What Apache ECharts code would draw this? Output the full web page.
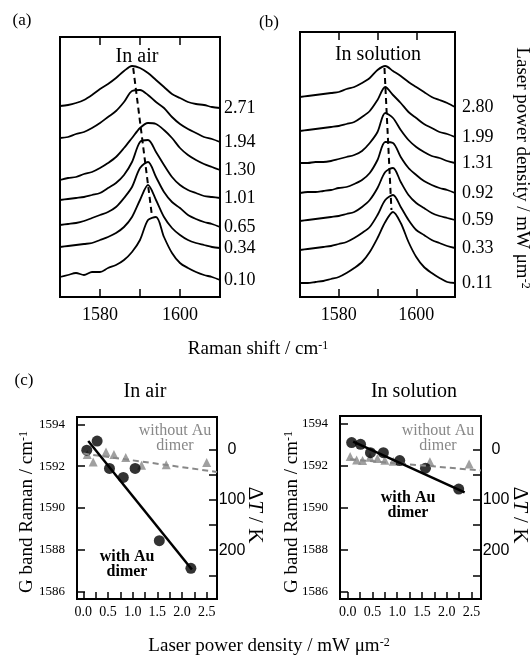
<!DOCTYPE html>
<html>
<head>
<meta charset="utf-8">
<script src="https://cdn.jsdelivr.net/npm/echarts@6/dist/echarts.min.js"></script>
<style>
html, body { margin: 0; background: #fff; }
#main { width: 531px; height: 660px; }
</style>
</head>
<body>
<div id="main"></div>
<script>
// Raman shift grid of the spectra (cm-1)
var shiftX = [1570,1572,1574,1576,1578,1580,1582,1584,1586,1588,1590,1592,1594,1596,1598,1600,1602,1604,1606,1608,1610];
var shiftTicks = [1570,1580,1590,1600,1610];
var shiftLabels = [1580,1600];

// (a) in air, stacked spectra, bottom to top (arb. units)
var airPower = ['0.10','0.34','0.65','1.01','1.30','1.94','2.71'];
var airSpectra = [
  [20,22,24,22,25,25,29,32,37,45,57,77,80,60,44,34,29,25,22,20,17],
  [50,51,52,53,54,57,60,64,70,80,97,112,97,80,69,62,57,54,52,50,49],
  [72,73,74,76,79,82,85,90,99,110,129,135,120,105,95,89,82,78,75,73,70],
  [97,98,99,100,102,104,109,114,122,135,155,157,145,132,120,112,107,104,101,100,99],
  [117,119,120,123,125,129,134,140,149,159,169,174,173,167,159,149,142,137,133,130,127],
  [159,160,163,165,169,174,180,186,195,206,207,202,195,189,180,173,168,164,160,158,155],
  [191,192,194,197,202,208,213,219,226,231,229,224,217,210,203,199,195,193,192,190,189]
];
var airPeakLine = [[1588.3,229],[1592.9,84]];

// (b) in solution
var solPower = ['0.11','0.33','0.59','0.92','1.31','1.99','2.80'];
var solSpectra = [
  [14,14,15,16,18,20,24,29,35,45,59,75,85,74,55,40,30,24,19,15,14],
  [47,48,49,50,51,53,55,59,64,70,82,97,102,90,77,67,62,57,54,51,49],
  [76,77,78,79,80,81,83,85,90,97,109,125,129,115,102,94,89,84,81,79,77],
  [104,105,105,106,107,109,110,113,117,124,137,155,154,140,129,122,116,112,109,107,104],
  [134,134,135,135,136,138,140,142,146,154,165,184,179,167,157,150,145,141,139,136,134],
  [166,167,168,169,170,171,173,175,180,186,197,210,202,194,185,179,173,169,165,163,160],
  [200,201,202,203,204,205,208,210,214,219,227,231,226,221,215,210,205,200,197,194,190]
];
var solPeakLine = [[1591.8,229],[1593.6,87]];

// (c) G band position vs laser power density
var airWithX = [0.07,0.28,0.53,0.81,1.05,1.54,2.18];
var airWithY = [1592.76,1593.2,1591.89,1591.46,1591.89,1588.43,1587.11];
var airWithoutX = [0.08,0.20,0.46,0.62,0.86,1.18,1.68,2.50];
var airWithoutY = [1592.55,1592.2,1592.68,1592.55,1592.41,1592.04,1592.07,1592.17];
var airWithFit = [[0.1,1593.2],[2.2,1587.05]];
var airWithoutFit = [[0.0,1592.6],[2.71,1591.72]];

var solWithX = [0.08,0.26,0.46,0.72,1.05,1.57,2.24];
var solWithY = [1593.11,1593.03,1592.63,1592.63,1592.25,1591.89,1590.89];
var solWithoutX = [0.05,0.18,0.30,0.45,0.60,0.75,0.92,1.66,2.45];
var solWithoutY = [1592.44,1592.28,1592.25,1592.41,1592.35,1592.27,1592.22,1592.2,1592.09];
var solWithFit = [[0.11,1593.16],[2.36,1590.73]];
var solWithoutFit = [[0.05,1592.31],[2.69,1591.78]];

var powerTicks = [0,0.25,0.5,0.75,1,1.25,1.5,1.75,2,2.25,2.5];
var powerLabels = [0,0.5,1,1.5,2,2.5];
var gbandTicks = [1586,1588,1590,1592,1594];
var dTTicks = [0,50,100,150,200,250];
var dTLabels = [0,100,200];

var serif = 'Liberation Serif';
var chart = echarts.init(document.getElementById('main'));

function pairs(xs, ys) {
    return xs.map(function (x, i) { return [x, ys[i]]; });
}
function plain(v) { return String(v); }

var frame = {show: true, borderColor: '#000', borderWidth: 2, backgroundColor: 'transparent'};
var blackLine = {onZero: false, lineStyle: {color: '#000', width: 2}};

function shiftAxis(grid, pos) {
    return {
        type: 'value', gridIndex: grid, position: pos, min: 1570, max: 1610, interval: 10,
        axisLine: blackLine,
        axisTick: {inside: true, length: 8, lineStyle: {color: '#000', width: 1.5}, customValues: shiftTicks},
        axisLabel: {show: pos === 'bottom', customValues: shiftLabels, margin: 9, formatter: plain,
            color: '#000', fontFamily: serif, fontSize: 18},
        splitLine: {show: false}
    };
}
function powerAxis(grid, mn, mx) {
    return {
        type: 'value', gridIndex: grid, min: mn, max: mx,
        axisLine: blackLine,
        axisTick: {inside: true, length: 7, lineStyle: {color: '#000', width: 1.5}, customValues: powerTicks},
        axisLabel: {customValues: powerLabels, margin: 6, color: '#000', fontFamily: serif, fontSize: 14,
            formatter: function (v) { return v.toFixed(1); }},
        splitLine: {show: false}
    };
}
function gbandAxis(grid, mn, mx) {
    return {
        type: 'value', gridIndex: grid, position: 'left', min: mn, max: mx,
        axisLine: blackLine,
        axisTick: {inside: true, length: 8, lineStyle: {color: '#000', width: 1.5}, customValues: gbandTicks},
        axisLabel: {customValues: gbandTicks, margin: 12, formatter: plain,
            color: '#000', fontFamily: serif, fontSize: 13},
        splitLine: {show: false}
    };
}
function dTAxis(grid, mn, mx) {
    return {
        type: 'value', gridIndex: grid, position: 'right', inverse: true, min: mn, max: mx,
        axisLine: blackLine,
        axisTick: {inside: true, length: 8, lineStyle: {color: '#000', width: 1.5}, customValues: dTTicks},
        axisLabel: {customValues: dTLabels, margin: 15, align: 'center', formatter: plain,
            color: '#000', fontFamily: 'Liberation Sans', fontSize: 16},
        splitLine: {show: false}
    };
}

var series = [];
function addSpectra(spectra, labels, axis, dist) {
    spectra.forEach(function (row, i) {
        series.push({
            type: 'line', xAxisIndex: axis, yAxisIndex: axis / 2, data: pairs(shiftX, row),
            symbol: 'none', smooth: 0.3, silent: true,
            lineStyle: {color: '#000', width: 1.8},
            endLabel: {show: true, formatter: labels[i], distance: dist, color: '#000', fontFamily: serif, fontSize: 18}
        });
    });
}
addSpectra(airSpectra, airPower, 0, 4);
addSpectra(solSpectra, solPower, 2, 7);
series.push({type: 'line', xAxisIndex: 0, yAxisIndex: 0, data: airPeakLine, symbol: 'none',
    lineStyle: {color: '#000', width: 2, type: [6, 4]}});
series.push({type: 'line', xAxisIndex: 2, yAxisIndex: 1, data: solPeakLine, symbol: 'none',
    lineStyle: {color: '#000', width: 2, type: [6, 4]}});

function addPanel(xi, yi, withX, withY, withoutX, withoutY, withFit, withoutFit) {
    series.push({type: 'line', xAxisIndex: xi, yAxisIndex: yi, data: withoutFit, symbol: 'none',
        lineStyle: {color: '#888', width: 2, type: [6, 4]}});
    series.push({type: 'scatter', xAxisIndex: xi, yAxisIndex: yi, data: pairs(withoutX, withoutY),
        symbol: 'triangle', symbolSize: 9, itemStyle: {color: '#888'}});
    series.push({type: 'line', xAxisIndex: xi, yAxisIndex: yi, data: withFit, symbol: 'none',
        lineStyle: {color: '#000', width: 2.5}});
    series.push({type: 'scatter', xAxisIndex: xi, yAxisIndex: yi, data: pairs(withX, withY),
        symbol: 'circle', symbolSize: 11, itemStyle: {color: '#000'}});
}
addPanel(4, 2, airWithX, airWithY, airWithoutX, airWithoutY, airWithFit, airWithoutFit);
addPanel(5, 4, solWithX, solWithY, solWithoutX, solWithoutY, solWithFit, solWithoutFit);

function txt(x, y, text, size, extra) {
    var st = {text: text, x: 0, y: 0, align: 'center', verticalAlign: 'middle',
        fontFamily: serif, fontSize: size, fill: '#000'};
    var el = {type: 'text', x: x, y: y, style: st, silent: true};
    if (extra) {
        for (var k in extra.style || {}) st[k] = extra.style[k];
        if (extra.rotation) el.rotation = extra.rotation;
    }
    return el;
}
function sup(size, supSize) {
    return {n: {fontFamily: serif, fontSize: size}, s: {fontFamily: serif, fontSize: supSize, verticalAlign: 'top'}};
}
var dTrich = {n: {fontFamily: serif, fontSize: 21}, i: {fontFamily: serif, fontSize: 21, fontStyle: 'italic'}};

var graphics = [
    txt(22, 21, '(a)', 17),
    txt(269, 23, '(b)', 17),
    txt(137, 57, 'In air', 20),
    txt(378, 55, 'In solution', 20),
    txt(258, 349, '{n|Raman shift / cm}{s|-1}', 19, {style: {rich: sup(19, 12)}}),
    txt(522, 168, '{n|Laser power density / mW μm}{s|-2}', 19, {style: {rich: sup(19, 12)}, rotation: -Math.PI / 2}),
    txt(24, 381, '(c)', 17),
    txt(145, 392, 'In air', 20),
    txt(414, 392, 'In solution', 20),
    txt(27, 512, '{n|G band Raman / cm}{s|-1}', 19, {style: {rich: sup(19, 12)}, rotation: Math.PI / 2}),
    txt(292, 512, '{n|G band Raman / cm}{s|-1}', 19, {style: {rich: sup(19, 12)}, rotation: Math.PI / 2}),
    txt(255, 515, '{n|Δ}{i|T}{n| / K}', 21, {style: {rich: dTrich}, rotation: -Math.PI / 2}),
    txt(520, 515, '{n|Δ}{i|T}{n| / K}', 21, {style: {rich: dTrich}, rotation: -Math.PI / 2}),
    txt(175, 431, 'without Au', 16, {style: {fill: '#888'}}),
    txt(175, 446, 'dimer', 16, {style: {fill: '#888'}}),
    txt(438, 431, 'without Au', 16, {style: {fill: '#888'}}),
    txt(438, 446, 'dimer', 16, {style: {fill: '#888'}}),
    txt(127, 557, 'with Au', 16, {style: {fontWeight: 'bold'}}),
    txt(127, 572, 'dimer', 16, {style: {fontWeight: 'bold'}}),
    txt(408, 498, 'with Au', 16, {style: {fontWeight: 'bold'}}),
    txt(408, 513, 'dimer', 16, {style: {fontWeight: 'bold'}}),
    txt(269, 646, '{n|Laser power density / mW μm}{s|-2}', 19, {style: {rich: sup(19, 12)}})
];

var option = {
    animation: false,
    backgroundColor: '#fff',
    grid: [
        Object.assign({left: 60, top: 37, width: 160, height: 260}, frame),
        Object.assign({left: 300, top: 32, width: 155, height: 265}, frame),
        Object.assign({left: 77, top: 417, width: 140, height: 182}, frame),
        Object.assign({left: 340, top: 416, width: 141, height: 183}, frame)
    ],
    xAxis: [
        shiftAxis(0, 'bottom'), shiftAxis(0, 'top'),
        shiftAxis(1, 'bottom'), shiftAxis(1, 'top'),
        powerAxis(2, -0.128, 2.709), powerAxis(3, -0.155, 2.69)
    ],
    yAxis: [
        {type: 'value', gridIndex: 0, min: 0, max: 260, show: false},
        {type: 'value', gridIndex: 1, min: 0, max: 265, show: false},
        gbandAxis(2, 1585.64, 1594.35), dTAxis(2, -64, 297),
        gbandAxis(3, 1585.64, 1594.38), dTAxis(3, -66, 297)
    ],
    series: series,
    graphic: graphics
};
chart.setOption(option);
</script>
</body>
</html>
